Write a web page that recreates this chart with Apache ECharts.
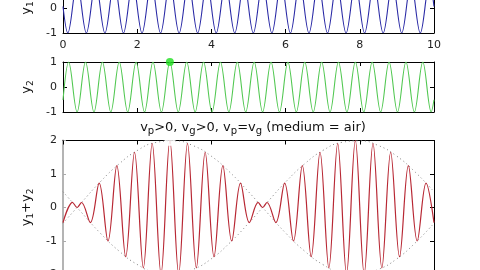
<!DOCTYPE html>
<html><head><meta charset="utf-8">
<script src="https://cdn.jsdelivr.net/npm/echarts/dist/echarts.min.js"></script>
<style>html,body{margin:0;padding:0;background:#fff}#c{width:480px;height:270px}</style>
</head><body><div id="c"></div>
<script>
// ---- data ----
const xTicks = [0, 2, 4, 6, 8, 10];
const blueX = [0,0.13,0.38,0.63,0.88,1.13,1.38,1.63,1.88,2.13,2.38,2.63,2.88,3.13,3.38,3.63,3.88,4.13,4.38,4.63,4.88,5.13,5.38,5.63,5.88,6.13,6.38,6.63,6.88,7.13,7.38,7.63,7.88,8.13,8.38,8.63,8.88,9.13,9.38,9.63,9.88,10];
const blueY = [0.06,-1,1,-1,1,-1,1,-1,1,-1,1,-1,1,-1,1,-1,1,-1,1,-1,1,-1,1,-1,1,-1,1,-1,1,-1,1,-1,1,-1,1,-1,1,-1,1,-1,1,0.06];
const greenX = [0,0.153,0.380,0.607,0.835,1.062,1.289,1.516,1.744,1.971,2.198,2.425,2.653,2.880,3.107,3.335,3.562,3.789,4.016,4.244,4.471,4.698,4.925,5.153,5.380,5.607,5.835,6.062,6.289,6.516,6.744,6.971,7.198,7.425,7.653,7.880,8.107,8.335,8.562,8.789,9.016,9.244,9.471,9.698,9.925,10];
const greenY = [-0.52,1,-1,1,-1,1,-1,1,-1,1,-1,1,-1,1,-1,1,-1,1,-1,1,-1,1,-1,1,-1,1,-1,1,-1,1,-1,1,-1,1,-1,1,-1,1,-1,1,-1,1,-1,1,-1,-0.51];
const redX = [0,0.261,0.380,0.499,0.737,0.975,1.213,1.451,1.690,1.928,2.166,2.404,2.642,2.880,3.118,3.356,3.594,3.832,4.070,4.309,4.547,4.785,5.023,5.261,5.380,5.499,5.737,5.975,6.213,6.451,6.690,6.928,7.166,7.404,7.642,7.880,8.118,8.356,8.594,8.832,9.071,9.309,9.547,9.785,10];
const redY = [-0.45,0.15,0,0.15,-0.45,0.73,-1.0,1.25,-1.47,1.65,-1.80,1.91,-1.98,2.0,-1.98,1.91,-1.80,1.65,-1.47,1.25,-1.0,0.73,-0.45,0.15,0,0.15,-0.45,0.73,-1.0,1.25,-1.47,1.65,-1.80,1.91,-1.98,2.0,-1.98,1.91,-1.80,1.65,-1.47,1.25,-1.0,0.73,-0.45];
const envX = [0,0.5,1,1.5,2,2.5,3,3.5,4,4.5,5,5.5,6,6.5,7,7.5,8,8.5,9,9.5,10];
const envUp = [-0.47,0.15,0.76,1.29,1.70,1.94,1.99,1.85,1.53,1.05,0.47,-0.15,-0.76,-1.29,-1.70,-1.94,-1.99,-1.85,-1.53,-1.05,-0.47];
const envLow = [0.47,-0.15,-0.76,-1.29,-1.70,-1.94,-1.99,-1.85,-1.53,-1.05,-0.47,0.15,0.76,1.29,1.70,1.94,1.99,1.85,1.53,1.05,0.47];
const markX = 2.88;
const greenMarkY = 1;
const redMarkY = 2;
const titleText = '{t|v}{s|p}{t|>0, v}{s|g}{t|>0, v}{s|p}{t|=v}{s|g}{t| (medium = air)}';

const pairs = (xs, ys) => xs.map((x, i) => [x, ys[i]]);
const FONT = 'DejaVu Sans';
const richName = {
  t: {fontSize: 13, lineHeight: 18, color: '#111', fontFamily: FONT, fontWeight: 'normal'},
  s: {fontSize: 9, lineHeight: 9, verticalAlign: 'bottom', color: '#111', fontFamily: FONT, fontWeight: 'normal'}
};

const grids = [
  {left: 63, top: -17, width: 371, height: 50, outerBoundsMode: 'none', containLabel: false},
  {left: 63, top: 62, width: 371, height: 50, outerBoundsMode: 'none', containLabel: false},
  {left: 63, top: 140.5, width: 371, height: 134, outerBoundsMode: 'none', containLabel: false}
];

function xPair(gi, showLabels) {
  const base = {
    type: 'value', gridIndex: gi, min: 0, max: 10, interval: 2,
    splitLine: {show: false},
    axisLine: {show: true, onZero: false, lineStyle: {color: '#000', width: 1}},
    axisTick: {show: true, inside: true, length: 4, lineStyle: {color: '#000'}}
  };
  return [
    Object.assign({}, base, {position: 'bottom',
      axisLabel: {show: showLabels, fontSize: 11, color: '#222', margin: 7, fontFamily: FONT}}),
    Object.assign({}, base, {position: 'top', axisLabel: {show: false}})
  ];
}
function yPair(gi, min, max, name, leftLine) {
  const base = {
    type: 'value', gridIndex: gi, min: min, max: max, interval: 1,
    splitLine: {show: false},
    axisLine: {show: true, onZero: false, lineStyle: {color: '#000', width: 1}},
    axisTick: {show: true, inside: true, length: 4, lineStyle: {color: '#000'}}
  };
  const left = Object.assign({}, base, {
    position: 'left',
    name: name, nameLocation: 'middle', nameGap: 18, nameRotate: 90,
    nameTextStyle: {rich: richName},
    axisLabel: {show: true, fontSize: 11, color: '#222', margin: 6, fontFamily: FONT}
  });
  if (leftLine) {
    left.axisLine = {show: true, onZero: false, lineStyle: {color: '#b4b4b4', width: 2}};
    left.axisTick = {show: true, inside: true, length: 3, lineStyle: {color: '#aaa'}};
  }
  const right = Object.assign({}, base, {position: 'right', axisLabel: {show: false}});
  return [left, right];
}

const option = {
  animation: false,
  backgroundColor: '#fff',
  title: {
    text: titleText, left: 248, top: 114, textAlign: 'center',
    textStyle: {fontWeight: 'normal', rich: {
      t: {fontSize: 13, lineHeight: 17, color: '#111', fontFamily: FONT, fontWeight: 'normal'},
      s: {fontSize: 10, lineHeight: 10, verticalAlign: 'bottom', color: '#111', fontFamily: FONT, fontWeight: 'normal'}
    }}
  },
  grid: grids,
  xAxis: [].concat(xPair(0, true), xPair(1, false), xPair(2, false)),
  yAxis: [].concat(
    yPair(0, -1, 1, '{t|y}{s|1}', false),
    yPair(1, -1, 1, '{t|y}{s|2}', false),
    yPair(2, -2, 2, '{t|y}{s|1}{t|+y}{s|2}', true)
  ),
  series: [
    {type: 'line', xAxisIndex: 0, yAxisIndex: 0, data: pairs(blueX, blueY), smooth: 0.36,
     showSymbol: false, lineStyle: {color: '#2a2aa6', width: 1.1}},
    {type: 'line', xAxisIndex: 2, yAxisIndex: 2, data: pairs(greenX, greenY), smooth: 0.36,
     showSymbol: false, lineStyle: {color: '#52c852', width: 1.1}},
    {type: 'scatter', xAxisIndex: 2, yAxisIndex: 2, data: [[markX, greenMarkY]], symbolSize: 8,
     clip: false, itemStyle: {color: '#1fe01f'}, z: 5},
    {type: 'line', xAxisIndex: 4, yAxisIndex: 4, data: pairs(envX, envUp), smooth: 0.5,
     showSymbol: false, lineStyle: {color: '#808080', width: 1, type: [1, 3]}},
    {type: 'line', xAxisIndex: 4, yAxisIndex: 4, data: pairs(envX, envLow), smooth: 0.5,
     showSymbol: false, lineStyle: {color: '#808080', width: 1, type: [1, 3]}},
    {type: 'line', xAxisIndex: 4, yAxisIndex: 4, data: pairs(redX, redY), smooth: 0.36,
     showSymbol: false, lineStyle: {color: '#b82834', width: 1.2}},
    {type: 'scatter', xAxisIndex: 4, yAxisIndex: 4, data: [[markX, redMarkY]], symbol: 'emptyCircle',
     symbolSize: 9, clip: false, itemStyle: {color: '#fff', borderColor: '#d02020', borderWidth: 1.2}, z: 5}
  ]
};
const chart = echarts.init(document.getElementById('c'), null, {renderer: 'canvas'});
chart.setOption(option);
</script>
</body></html>
